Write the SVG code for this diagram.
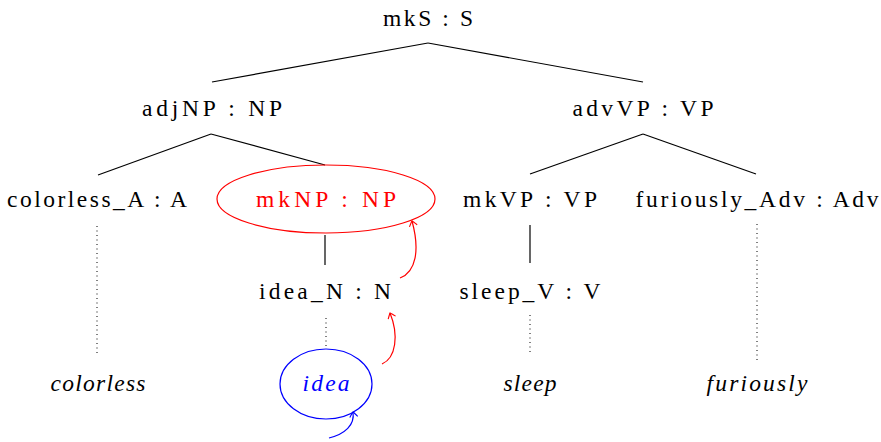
<svg xmlns="http://www.w3.org/2000/svg" width="881" height="442" viewBox="0 0 881 442">
<style>
text{font-family:"Liberation Serif","DejaVu Serif",serif;font-size:23.5px;text-anchor:middle;fill:#000}
.it{font-style:italic}
.red{fill:#ff0000}
.blue{fill:#0000ff}
.e{stroke:#000;stroke-width:1.2;fill:none}
.d{stroke:#000;stroke-width:1;fill:none;stroke-dasharray:1 3.5}
</style>
<defs>
<marker id="ar" viewBox="-6 -5 8 10" markerWidth="8" markerHeight="10" refX="0" refY="0" orient="auto" markerUnits="userSpaceOnUse">
<path d="M-5,-4 Q-1,-1 0,0 Q-1,1 -5,4" fill="none" stroke="#ff0000" stroke-width="1.1"/>
</marker>
<marker id="ab" viewBox="-6 -5 8 10" markerWidth="8" markerHeight="10" refX="0" refY="0" orient="auto" markerUnits="userSpaceOnUse">
<path d="M-5,-4 Q-1,-1 0,0 Q-1,1 -5,4" fill="none" stroke="#0000ff" stroke-width="1.1"/>
</marker>
</defs>
<g id="connectors">
<line class="e" x1="428" y1="43" x2="212" y2="82"/>
<line class="e" x1="428" y1="43" x2="643" y2="82"/>
<line class="e" x1="211" y1="134" x2="98" y2="175"/>
<line class="e" x1="211" y1="134" x2="325" y2="165"/>
<line class="e" x1="643" y1="134" x2="530" y2="174"/>
<line class="e" x1="643" y1="134" x2="756" y2="174"/>
<line class="e" x1="325" y1="235" x2="325" y2="265"/>
<line class="e" x1="530" y1="225" x2="530" y2="263"/>
<line class="d" x1="97" y1="226" x2="97" y2="356"/>
<line class="d" x1="326" y1="318" x2="326" y2="346"/>
<line class="d" x1="530" y1="315" x2="530" y2="355"/>
<line class="d" x1="757" y1="224" x2="757" y2="360"/>
<path d="M382,364 C396,358 399,335 390,313" fill="none" stroke="#ff0000" stroke-width="1.2" marker-end="url(#ar)"/>
<path d="M400,278 C416,272 420,250 412,221" fill="none" stroke="#ff0000" stroke-width="1.2" marker-end="url(#ar)"/>
<path d="M329,438 C345,434 355,425 353,412" fill="none" stroke="#0000ff" stroke-width="1.2" marker-end="url(#ab)"/>
</g>
<g id="mkS"><text x="428" y="26" textLength="90">mkS : S</text></g>
<g id="adjNP"><text x="212" y="116" textLength="140">adjNP : NP</text></g>
<g id="advVP"><text x="643" y="116" textLength="141">advVP : VP</text></g>
<g id="colorless_A"><text x="97" y="207" textLength="180">colorless_A : A</text></g>
<g id="mkNP"><ellipse cx="326" cy="199" rx="109" ry="34" fill="none" stroke="#ff0000" stroke-width="1.2"/><text class="red" x="326" y="207" textLength="140">mkNP : NP</text></g>
<g id="mkVP"><text x="530" y="207" textLength="134">mkVP : VP</text></g>
<g id="furiously_Adv"><text x="757" y="207" textLength="243">furiously_Adv : Adv</text></g>
<g id="idea_N"><text x="325" y="299" textLength="132">idea_N : N</text></g>
<g id="sleep_V"><text x="530" y="299" textLength="141">sleep_V : V</text></g>
<g id="colorless"><text class="it" x="98" y="391" textLength="95">colorless</text></g>
<g id="idea"><ellipse cx="326" cy="384" rx="46" ry="35" fill="none" stroke="#0000ff" stroke-width="1.2"/><text class="it blue" x="326" y="391" textLength="47">idea</text></g>
<g id="sleep"><text class="it" x="530" y="391" textLength="53">sleep</text></g>
<g id="furiously"><text class="it" x="757" y="391" textLength="101">furiously</text></g>
</svg>
